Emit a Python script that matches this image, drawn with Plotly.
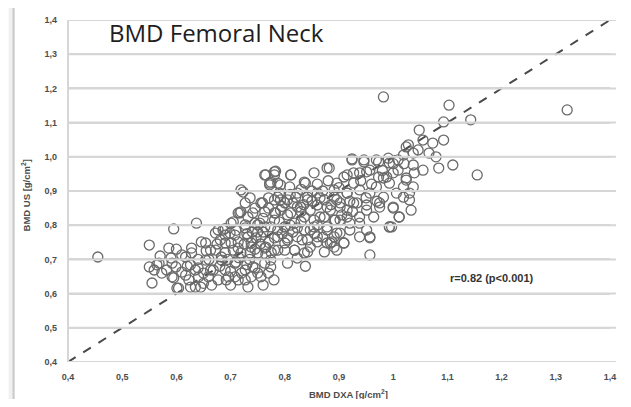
import plotly.graph_objects as go

# --- data ---
pts = [
    # outliers / sparse
    (0.455, 0.707), (0.55, 0.742), (0.595, 0.789), (0.637, 0.806), (0.555, 0.631),
    (0.982, 1.175), (1.103, 1.151), (1.143, 1.108), (1.321, 1.137), (1.155, 0.947),
    (1.11, 0.976), (1.093, 1.049), (1.048, 1.078), (1.093, 1.102), (1.084, 0.967),
    (0.957, 0.763), (0.957, 0.713), (0.997, 0.795), (0.838, 0.68),
    # lower-left cluster
    (0.55, 0.678), (0.564, 0.684), (0.559, 0.669), (0.586, 0.733), (0.59, 0.704),
    (0.582, 0.669), (0.592, 0.649), (0.599, 0.678), (0.601, 0.616), (0.61, 0.663),
    (0.617, 0.707), (0.628, 0.733), (0.626, 0.684), (0.635, 0.619), (0.641, 0.649),
    (0.646, 0.751), (0.654, 0.698), (0.663, 0.727), (0.668, 0.669), (0.672, 0.777),
    (0.681, 0.757), (0.683, 0.707), (0.69, 0.669), (0.692, 0.64), (0.699, 0.777),
    (0.705, 0.727), (0.71, 0.692), (0.714, 0.751), (0.719, 0.903), (0.717, 0.836),
    (0.727, 0.865), (0.732, 0.824), (0.727, 0.792), (0.736, 0.719), (0.741, 0.678),
    (0.747, 0.763), (0.754, 0.806), (0.759, 0.865), (0.763, 0.947), (0.781, 0.947),
    (0.772, 0.918), (0.765, 0.736), (0.774, 0.698), (0.781, 0.836), (0.787, 0.786),
    (0.792, 0.874), (0.8, 0.748), (0.738, 0.649), (0.727, 0.64), (0.708, 0.649),
    (0.677, 0.64), (0.659, 0.649), (0.623, 0.64),
    (0.677, 0.786), (0.69, 0.771), (0.714, 0.836), (0.745, 0.806), (0.763, 0.795),
    (0.738, 0.748), (0.75, 0.719), (0.763, 0.689), (0.756, 0.649), (0.732, 0.619),
    (0.714, 0.64), (0.696, 0.649), (0.663, 0.669), (0.628, 0.719), (0.61, 0.713),
    (0.592, 0.689), (0.568, 0.689), (0.573, 0.66), (0.595, 0.646), (0.617, 0.654),
    (0.635, 0.669), (0.645, 0.619), (0.604, 0.616), (0.626, 0.619), (0.654, 0.748),
    (0.672, 0.727), (0.683, 0.698), (0.708, 0.689), (0.719, 0.719), (0.701, 0.748),
    (0.727, 0.669), (0.745, 0.675), (0.65, 0.63), (0.665, 0.625), (0.7, 0.625),
    (0.72, 0.66), (0.76, 0.625), (0.77, 0.66), (0.78, 0.64), (0.66, 0.70),
    (0.64, 0.70), (0.62, 0.68), (0.60, 0.73), (0.57, 0.71), (0.69, 0.72),
    (0.655, 0.725), (0.675, 0.745), (0.695, 0.70), (0.715, 0.705), (0.725, 0.745),
    (0.735, 0.70), (0.745, 0.73), (0.755, 0.745), (0.765, 0.715), (0.775, 0.72),
    (0.64, 0.675), (0.65, 0.66), (0.68, 0.68), (0.70, 0.665), (0.73, 0.685),
    (0.75, 0.66), (0.69, 0.79), (0.71, 0.785), (0.73, 0.775), (0.705, 0.81),
    # middle cluster
    (0.723, 0.897), (0.736, 0.88), (0.756, 0.865), (0.79, 0.894), (0.809, 0.912),
    (0.82, 0.882), (0.781, 0.874), (0.8, 0.865), (0.823, 0.853), (0.842, 0.874),
    (0.86, 0.859), (0.878, 0.853), (0.902, 0.865), (0.719, 0.839), (0.741, 0.836),
    (0.763, 0.839), (0.783, 0.836), (0.805, 0.83), (0.836, 0.824), (0.854, 0.815),
    (0.873, 0.824), (0.893, 0.815), (0.701, 0.806), (0.727, 0.801), (0.75, 0.801),
    (0.774, 0.795), (0.8, 0.795), (0.823, 0.792), (0.847, 0.786), (0.878, 0.786),
    (0.902, 0.777), (0.686, 0.786), (0.708, 0.771), (0.732, 0.766), (0.756, 0.766),
    (0.781, 0.763), (0.805, 0.763), (0.832, 0.757), (0.86, 0.751), (0.884, 0.748),
    (0.69, 0.748), (0.714, 0.733), (0.738, 0.736), (0.763, 0.733), (0.787, 0.727),
    (0.818, 0.727), (0.842, 0.722), (0.873, 0.722), (0.896, 0.727),
    (0.783, 0.958), (0.765, 0.947), (0.811, 0.947), (0.838, 0.923), (0.772, 0.923),
    (0.787, 0.923),
    (0.878, 0.967), (0.854, 0.953), (0.924, 0.994), (0.946, 0.991), (0.969, 0.991),
    (0.993, 0.982), (1.024, 1.029), (1.037, 1.011), (0.781, 0.956), (0.811, 0.947),
    (0.836, 0.926), (0.792, 0.918), (0.774, 0.926), (0.787, 0.882), (0.805, 0.874),
    (0.823, 0.894), (0.842, 0.882), (0.86, 0.894), (0.891, 0.903), (0.909, 0.941),
    (0.927, 0.953), (0.951, 0.956), (0.973, 0.941), (0.988, 0.941), (1.009, 0.961),
    (1.024, 0.932), (1.037, 0.912), (1.019, 0.882), (1.0, 0.853), (1.011, 0.824),
    (0.993, 0.795), (0.975, 0.853), (0.951, 0.844), (0.933, 0.865), (0.915, 0.844),
    (0.902, 0.815), (0.92, 0.806), (0.938, 0.806), (0.951, 0.786), (0.909, 0.748),
    (0.891, 0.766), (0.878, 0.795), (0.865, 0.824), (0.884, 0.844), (0.896, 0.874),
    (0.915, 0.894), (0.873, 0.874), (0.847, 0.844), (0.829, 0.853), (0.811, 0.836),
    (0.792, 0.844), (0.781, 0.815), (0.8, 0.795), (0.818, 0.806), (0.836, 0.786),
    (0.854, 0.795), (0.86, 0.766), (0.842, 0.757), (0.823, 0.766), (0.805, 0.757),
    (0.787, 0.766), (0.781, 0.727), (0.8, 0.727), (0.818, 0.727), (0.836, 0.719),
    (0.847, 0.736), (0.878, 0.748), (0.891, 0.736), (0.774, 0.678), (0.805, 0.689),
    (0.823, 0.704),
    (0.76, 0.82), (0.77, 0.85), (0.795, 0.855), (0.815, 0.865), (0.835, 0.86),
    (0.85, 0.90), (0.865, 0.88), (0.885, 0.86), (0.905, 0.83), (0.925, 0.84),
    (0.75, 0.78), (0.795, 0.775), (0.815, 0.78), (0.855, 0.775), (0.87, 0.765),
    (0.745, 0.85), (0.77, 0.88), (0.81, 0.89), (0.83, 0.905), (0.86, 0.92),
    # upper-right cluster
    (1.055, 1.049), (1.073, 1.04), (1.028, 1.035), (1.046, 1.02), (1.066, 1.011),
    (1.079, 1.0), (1.055, 0.961), (1.037, 0.976), (1.019, 1.005), (1.009, 0.991),
    (0.924, 0.991), (0.946, 0.985), (0.973, 0.985), (0.991, 0.996), (0.882, 0.967),
    (0.957, 0.961), (1.0, 0.953), (1.024, 0.938), (1.039, 0.953), (0.982, 0.938),
    (0.938, 0.953), (0.915, 0.947), (0.896, 0.923), (0.927, 0.923), (0.969, 0.912),
    (0.993, 0.923), (1.019, 0.912), (1.03, 0.894), (1.006, 0.894), (0.982, 0.882),
    (0.957, 0.894), (0.938, 0.903), (0.915, 0.894), (0.891, 0.882), (0.902, 0.853),
    (0.927, 0.865), (0.951, 0.859), (0.975, 0.865), (1.0, 0.85), (1.03, 0.874),
    (1.033, 0.844), (1.011, 0.824), (0.993, 0.795), (0.957, 0.766), (0.938, 0.824),
    (0.915, 0.824), (0.891, 0.815), (0.964, 0.824), (0.896, 0.777), (0.92, 0.786),
    (0.938, 0.766), (0.909, 0.748), (0.887, 0.751),
    (0.86, 0.80), (0.87, 0.90), (0.85, 0.87), (0.83, 0.84), (0.76, 0.78),
    (0.74, 0.78), (0.77, 0.75), (0.79, 0.81), (0.81, 0.80), (0.83, 0.81),
    (0.94, 0.93), (0.96, 0.92), (0.90, 0.91), (0.88, 0.93), (0.95, 0.88),
    (0.97, 0.87), (0.92, 0.87), (0.98, 0.96), (1.0, 0.98), (1.02, 0.98),
]
bmd_dxa = [p[0] for p in pts]
bmd_us = [p[1] for p in pts]

ident_x = [0.4, 1.4]
ident_y = [0.4, 1.4]

tick_vals = [0.4, 0.5, 0.6, 0.7, 0.8, 0.9, 1.0, 1.1, 1.2, 1.3, 1.4]
x_tick_text = ["0,4", "0,5", "0,6", "0,7", "0,8", "0,9", "1", "1,1", "1,2", "1,3", "1,4"]
y_tick_text = ["0,4", "0,5", "0,6", "0,7", "0,8", "0,9", "1,0", "1,1", "1,2", "1,3", "1,4"]

title_text = "BMD Femoral Neck"
r_text = "r=0.82 (p<0.001)"
x_title = "BMD DXA [g/cm<sup>2</sup>]"
y_title = "BMD US [g/cm<sup>2</sup>]"

GRID = "#d6d6d6"
FRAME = "#c8c8c8"

fig = go.Figure()
fig.add_trace(go.Scatter(
    x=ident_x, y=ident_y, mode="lines",
    line=dict(color="#4a4a4a", width=2, dash="dash"),
    hoverinfo="skip", showlegend=False))
fig.add_trace(go.Scatter(
    x=bmd_dxa, y=bmd_us, mode="markers",
    marker=dict(symbol="circle-open", size=10, color="#6a6a6a", line=dict(width=1.3)),
    showlegend=False))

tick_font = dict(family="Liberation Sans", size=9, color="#4d4d4d", weight="bold")
title_font = dict(family="Liberation Sans", size=9.5, color="#4d4d4d", weight="bold")

W, H = 615, 391
L, R, T, B = 60, 7, 12, 37
pw, ph = W - L - R, H - T - B

shapes = [
    dict(type="rect", xref="paper", yref="paper",
         x0=-L / pw, x1=(5 - L) / pw, y0=-B / ph, y1=(H - T) / ph,
         fillcolor="#f0f0f0", line=dict(width=0), layer="above"),
    dict(type="line", xref="paper", yref="paper",
         x0=(5 - L) / pw, x1=(5 - L) / pw, y0=-B / ph, y1=(H - T - 1) / ph,
         line=dict(color=FRAME, width=2), layer="above"),
    dict(type="line", xref="paper", yref="paper",
         x0=(5 - L) / pw, x1=(W - L) / pw, y0=(H - T - 1) / ph, y1=(H - T - 1) / ph,
         line=dict(color=FRAME, width=2), layer="above"),
    # y axis line
    dict(type="line", xref="paper", yref="paper", x0=0, x1=0, y0=0, y1=1,
         line=dict(color=GRID, width=2), layer="above"),
]
# horizontal gridlines at the y tick values
for v in tick_vals:
    shapes.append(dict(type="line", xref="paper", yref="y", x0=0, x1=1.011, y0=v, y1=v,
                       line=dict(color=GRID, width=2), layer="above"))

fig.update_layout(
    width=W, height=H,
    margin=dict(l=L, r=R, t=T, b=B),
    paper_bgcolor="white", plot_bgcolor="white",
    xaxis=dict(range=[0.4, 1.4], tickvals=tick_vals, ticktext=x_tick_text,
               showgrid=False, zeroline=False, showline=False,
               tickfont=tick_font, ticks="", ticklabelstandoff=8,
               ticklabeloverflow="allow"),
    yaxis=dict(range=[0.4, 1.4], tickvals=tick_vals, ticktext=y_tick_text,
               showgrid=True, gridcolor=GRID, gridwidth=2,
               zeroline=False, showline=False,
               tickfont=tick_font, ticks="", ticklabelstandoff=10,
               ticklabeloverflow="allow"),
    shapes=shapes,
    annotations=[
        dict(text=title_text, x=0.472, y=1.364, xref="x", yref="y",
             xanchor="left", yanchor="middle", showarrow=False,
             font=dict(family="Open Sans", size=24, color="#1e1e1e")),
        dict(text=r_text, x=1.183, y=0.646, xref="x", yref="y",
             xanchor="center", yanchor="middle", showarrow=False,
             font=dict(family="Liberation Sans", size=11, color="#333333", weight="bold")),
        dict(text=x_title, x=(352 - 68) / 548, y=(362 - 394) / 342, xref="paper", yref="paper",
             xanchor="center", yanchor="middle", showarrow=False, font=title_font),
        dict(text=y_title, x=(26 - 68) / 548, y=(362 - 195) / 342, xref="paper", yref="paper",
             xanchor="center", yanchor="middle", showarrow=False, textangle=-90, font=title_font),
    ],
)
fig.write_html("out.html")
